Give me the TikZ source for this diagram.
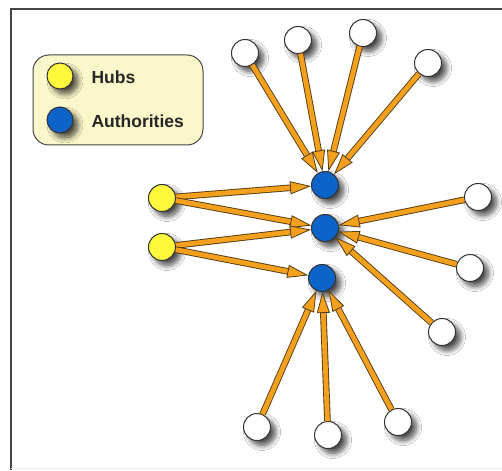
\documentclass[tikz,border=0pt]{standalone}
\usepackage{fontspec}
\setmainfont{Liberation Sans}
\usetikzlibrary{arrows.meta, shadows.blur}
\definecolor{hubyellow}{RGB}{255, 248, 60}
\definecolor{authblue}{RGB}{12, 100, 200}
\definecolor{linkorange}{RGB}{242, 160, 30}
\definecolor{linkdark}{RGB}{85, 62, 20}
\definecolor{legendfill}{RGB}{250, 247, 202}
\definecolor{framegray}{RGB}{70, 70, 70}

\begin{document}
\begin{tikzpicture}[x=1pt, y=-1pt,
        page/.style={circle, draw=black!80, line width=1pt, minimum size=27pt, inner sep=0pt,
            blur shadow={shadow xshift=5pt, shadow yshift=-5pt, shadow blur radius=5pt, shadow blur steps=10, shadow opacity=70}},
        hub/.style={page, fill=hubyellow},
        auth/.style={page, fill=authblue},
        web/.style={page, fill=white},
        label/.style={anchor=west, font=\fontsize{17.5}{20}\selectfont\bfseries, text=black!85},
        link/.style={draw=linkorange, line width=4.8pt,
            -{Triangle[length=21pt, width=13pt, fill=linkorange, color=linkdark, line width=0.8pt]},
            preaction={draw=linkdark, line width=6.6pt, -, shorten >=19pt}}
    ]
        \useasboundingbox (0,0) rectangle (502,470);
        \fill[white] (0,0) rectangle (502,470);
        \draw[framegray, line width=1.5pt] (11,470) -- (11,9) -- (502,9);
        \draw[black!8] (11,468) -- (502,468);

        % Legend
        \draw[framegray, fill=legendfill, line width=1pt, rounded corners=16pt] (33,55) rectangle (203,145);
        \node[hub, minimum size=26pt] (lh) at (60,76) {};
        \node[auth, minimum size=26pt] (la) at (60,120) {};
        \node[label] (lhtext) at (88,77) {Hubs};
        \node[label] (latext) at (88,121) {Authorities};

        % Authorities
        \node[auth] (a1) at (325,185) {};
        \node[auth] (a2) at (325,228) {};
        \node[auth] (a3) at (322,278) {};

        % Hubs
        \node[hub] (h1) at (162,198) {};
        \node[hub] (h2) at (162,247) {};

        % Pages round them
        \node[web] (t1) at (245,53) {};
        \node[web] (t2) at (298,40) {};
        \node[web] (t3) at (363,33) {};
        \node[web] (t4) at (428,63) {};
        \node[web] (r1) at (478,197) {};
        \node[web] (r2) at (470,268) {};
        \node[web] (r3) at (442,332) {};
        \node[web] (b1) at (257,427) {};
        \node[web] (b2) at (328,435) {};
        \node[web] (b3) at (398,422) {};

        % Links
        \draw[link] (h1) -- (a1); \draw[link] (h1) -- (a2);
        \draw[link] (h2) -- (a2); \draw[link] (h2) -- (a3);
        \draw[link] (t1) -- (a1); \draw[link] (t2) -- (a1);
        \draw[link] (t3) -- (a1); \draw[link] (t4) -- (a1);
        \draw[link] (r1) -- (a2); \draw[link] (r2) -- (a2); \draw[link] (r3) -- (a2);
        \draw[link] (b1) -- (a3); \draw[link] (b2) -- (a3); \draw[link] (b3) -- (a3);
    \end{tikzpicture}
\end{document}
